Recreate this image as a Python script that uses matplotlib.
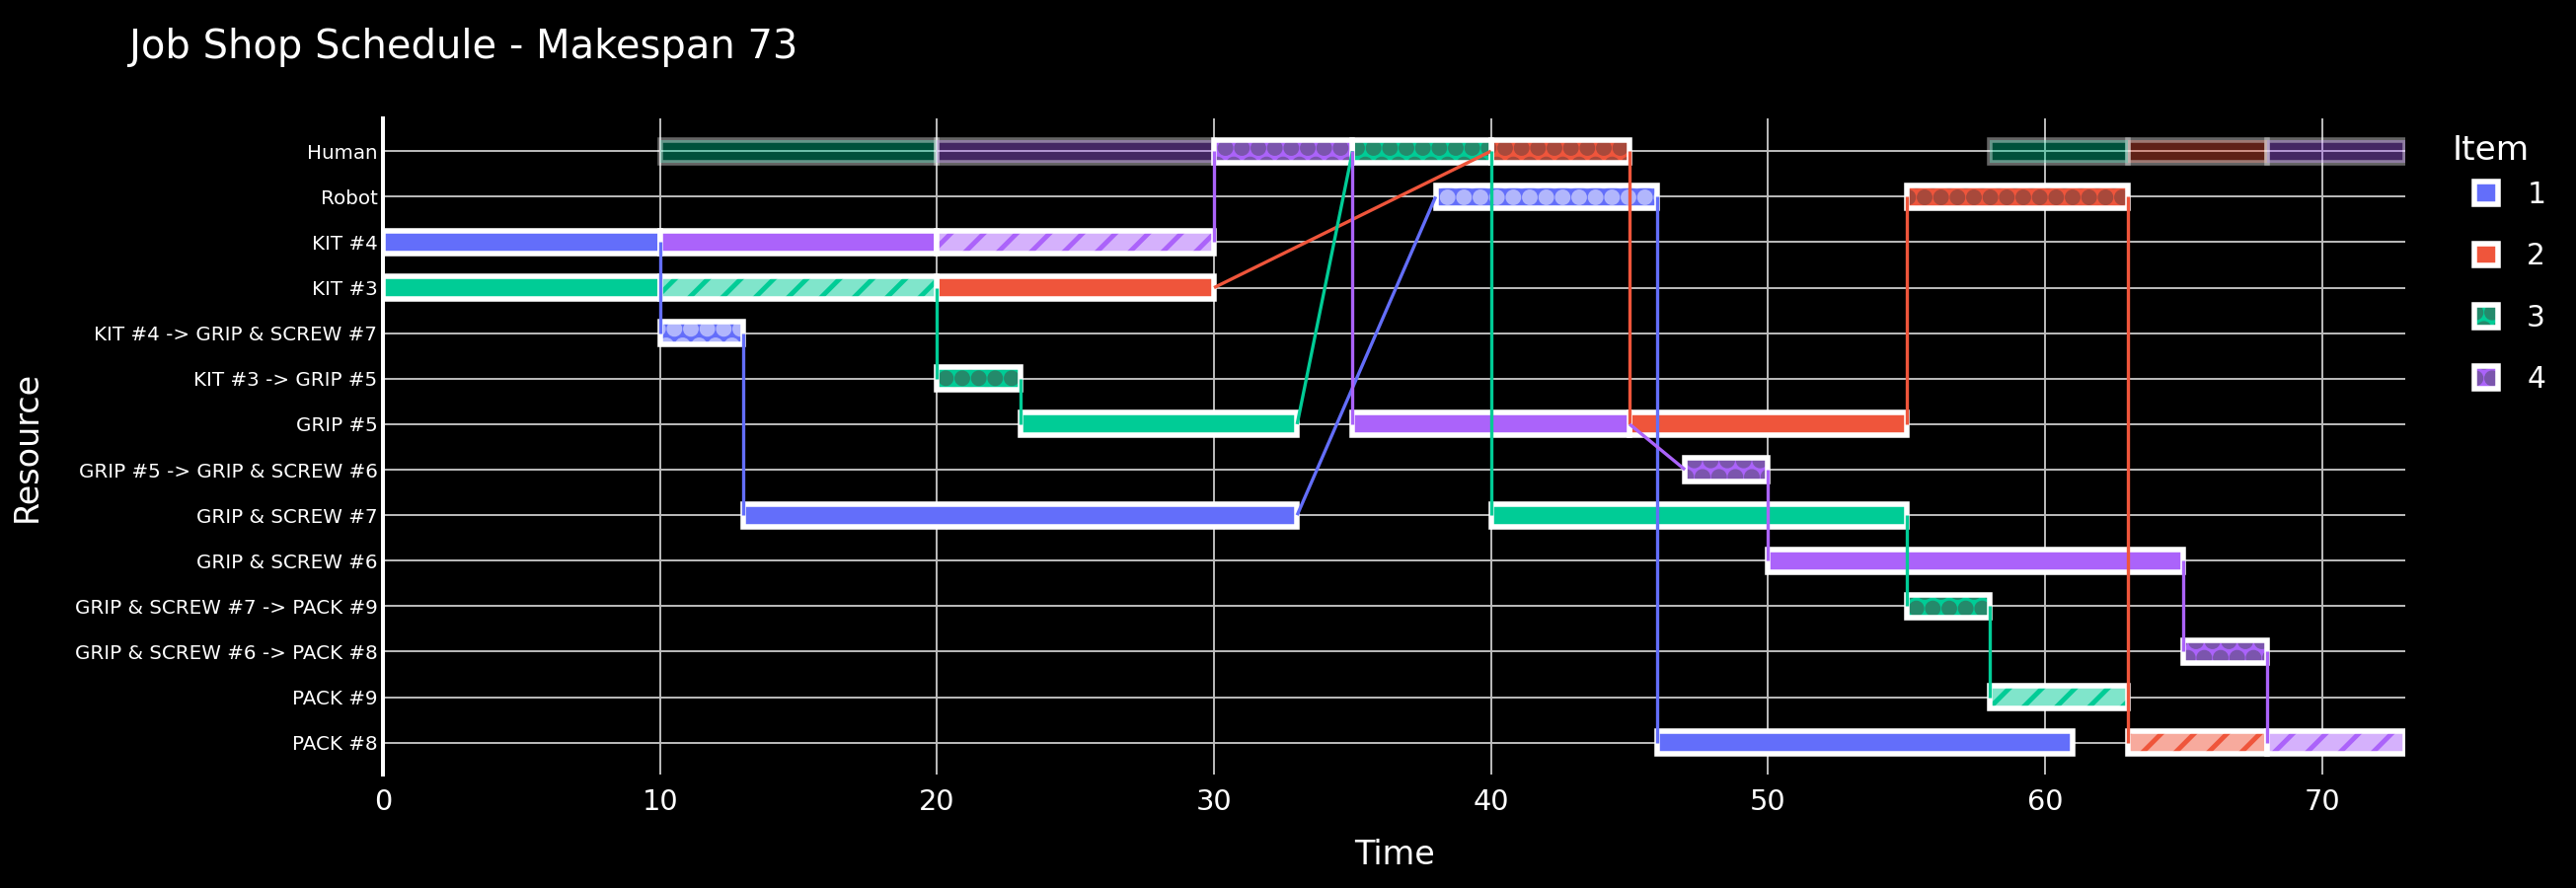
import matplotlib.pyplot as plt
import matplotlib.hatch as mhatch
from matplotlib.patches import Patch

# resource rows, top to bottom
resources = [
	"Human", "Robot", "KIT #4", "KIT #3",
	"KIT #4 -> GRIP & SCREW #7", "KIT #3 -> GRIP #5", "GRIP #5",
	"GRIP #5 -> GRIP & SCREW #6", "GRIP & SCREW #7", "GRIP & SCREW #6",
	"GRIP & SCREW #7 -> PACK #9", "GRIP & SCREW #6 -> PACK #8",
	"PACK #9", "PACK #8",
]

item_names = ["1", "2", "3", "4"]
item_colors = ["#636efa", "#ef553b", "#00cc96", "#ab63fa"]
stripe_fill = ["#b1b6fc", "#f7aa9d", "#80e5cb", "#d5b1fc"]
dot_colors = ["#b1b6fc", "#a8493b", "#248a6b", "#7b55ad"]

# kind: "work" = machine, "manual" = station worked by human, "move" = transport
item1_rows = ["KIT #4", "KIT #4 -> GRIP & SCREW #7", "GRIP & SCREW #7", "Robot", "PACK #8"]
item1_start = [0, 10, 13, 38, 46]
item1_end = [10, 13, 33, 46, 61]
item1_kind = ["work", "move", "work", "move", "work"]

item2_rows = ["KIT #3", "Human", "GRIP #5", "Robot", "PACK #8"]
item2_start = [20, 40, 45, 55, 63]
item2_end = [30, 45, 55, 63, 68]
item2_kind = ["work", "move", "work", "move", "manual"]

item3_rows = ["KIT #3", "KIT #3", "KIT #3 -> GRIP #5", "GRIP #5", "Human",
			  "GRIP & SCREW #7", "GRIP & SCREW #7 -> PACK #9", "PACK #9"]
item3_start = [0, 10, 20, 23, 35, 40, 55, 58]
item3_end = [10, 20, 23, 33, 40, 55, 58, 63]
item3_kind = ["work", "manual", "move", "work", "move", "work", "move", "manual"]

item4_rows = ["KIT #4", "KIT #4", "Human", "GRIP #5", "GRIP #5 -> GRIP & SCREW #6",
			  "GRIP & SCREW #6", "GRIP & SCREW #6 -> PACK #8", "PACK #8"]
item4_start = [10, 20, 30, 35, 47, 50, 65, 68]
item4_end = [20, 30, 35, 45, 50, 65, 68, 73]
item4_kind = ["work", "manual", "move", "work", "move", "work", "move", "manual"]

makespan = 73

items = [
	(item1_rows, item1_start, item1_end, item1_kind),
	(item2_rows, item2_start, item2_end, item2_kind),
	(item3_rows, item3_start, item3_end, item3_kind),
	(item4_rows, item4_start, item4_end, item4_kind),
]

plt.rcParams["hatch.linewidth"] = 3.5
mhatch.SmallFilledCircles.size = 0.33

BAR_H = 0.5
EDGE_LW = 4

fig = plt.figure(figsize=(26.1, 9), dpi=100, facecolor="black")
ax = fig.add_axes([388 / 2610, 115 / 900, 2049 / 2610, 665 / 900])
ax.set_facecolor("black")
ax.set_axisbelow(True)

human_y = resources.index("Human")

for idx, (rows, starts, ends, kinds) in enumerate(items):
	color = item_colors[idx]
	ys = [resources.index(r) for r in rows]
	widths = [e - s for s, e in zip(starts, ends)]
	for y, s, w, kind in zip(ys, starts, widths, kinds):
		if kind == "work":
			ax.barh(y, w, left=s, height=BAR_H, color=color, edgecolor="white", linewidth=EDGE_LW, zorder=2)
			continue
		if kind == "manual":
			ax.barh(y, w, left=s, height=BAR_H, color=stripe_fill[idx], edgecolor=color,
					linewidth=0, hatch="/", zorder=2)
			# human is busy at the station
			ax.barh(human_y, w, left=s, height=BAR_H, color=color, edgecolor="white",
					linewidth=EDGE_LW, alpha=0.4, zorder=2)
		else:
			ax.barh(y, w, left=s, height=BAR_H, color=color, edgecolor=dot_colors[idx],
					linewidth=0, hatch=".", zorder=2)
		ax.barh(y, w, left=s, height=BAR_H, fill=False, edgecolor="white", linewidth=EDGE_LW, zorder=2)

	# links between consecutive operations of the item
	for i in range(len(rows) - 1):
		ax.plot([ends[i], starts[i + 1]], [ys[i], ys[i + 1]], color=color, linewidth=2.4,
				solid_capstyle="butt", zorder=3)

ax.set_xlim(0, makespan)
ax.set_ylim(13.7, -0.72)
ax.set_yticks(range(len(resources)))
ax.set_yticklabels(resources, fontsize=14.3, color="white")
ax.set_xticks(range(0, 71, 10))
ax.tick_params(axis="x", colors="white", labelsize=20.7, length=0, pad=10)
ax.tick_params(axis="y", colors="white", length=0, pad=4)
ax.grid(True, color="#bdbdbd", linewidth=1.4)

for side in ["top", "right", "bottom"]:
	ax.spines[side].set_visible(False)
ax.spines["left"].set_color("white")
ax.spines["left"].set_linewidth(2.9)

ax.set_xlabel("Time", fontsize=24, color="white", labelpad=17)
ax.set_ylabel("Resource", fontsize=24, color="white", labelpad=23)

fig.text(131 / 2610, 1 - 59 / 900, f"Job Shop Schedule - Makespan {makespan}", fontsize=28.8,
		 color="white", va="baseline", ha="left")

# legend
handles = []
for idx in range(len(item_names)):
	if idx >= 2:
		handles.append((
			Patch(facecolor=item_colors[idx], edgecolor=dot_colors[idx], linewidth=0, hatch="."),
			Patch(fill=False, edgecolor="white", linewidth=EDGE_LW),
		))
	else:
		handles.append(Patch(facecolor=item_colors[idx], edgecolor="white", linewidth=EDGE_LW))
fig.text(2485 / 2610, 1 - 152 / 900, "Item", fontsize=24.7, color="white", va="center", ha="left")
leg = fig.legend(handles, item_names, loc="upper left", bbox_to_anchor=(2507 / 2610, 1 - 183 / 900),
				 frameon=False, fontsize=21.4, labelcolor="white", handlelength=0.81, handleheight=0.81,
				 handletextpad=0.98, labelspacing=1.12, borderpad=0, borderaxespad=0)

fig.savefig("out.png", dpi=100, facecolor="black")
